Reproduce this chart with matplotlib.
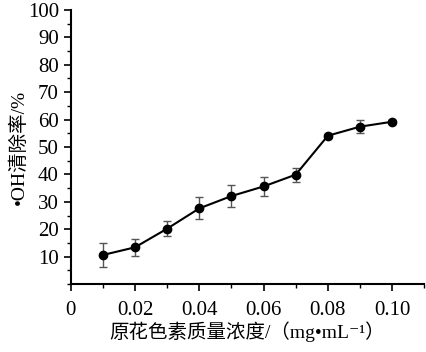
import matplotlib
matplotlib.use("Agg")
import matplotlib.pyplot as plt
from matplotlib.ticker import MultipleLocator

plt.rcParams['font.family'] = ['Liberation Serif', 'Noto Sans CJK SC', 'DejaVu Sans']

conc = [0.01, 0.02, 0.03, 0.04, 0.05, 0.06, 0.07, 0.08, 0.09, 0.10]
rate = [10.6, 13.4, 20.2, 27.6, 32.1, 35.6, 39.9, 54.1, 57.4, 59.2]
err = [4.3, 3.2, 2.8, 4.0, 3.9, 3.6, 2.5, 0.8, 2.3, 0.5]

xticks = [0, 0.02, 0.04, 0.06, 0.08, 0.10]
xtick_labels = ['0', '0.02', '0.04', '0.06', '0.08', '0.10']
yticks = [10, 20, 30, 40, 50, 60, 70, 80, 90, 100]

fig = plt.figure(figsize=(4.26, 3.52), dpi=100)
ax = fig.add_axes([0.166, 0.193, 0.83, 0.779])

ax.errorbar(conc, rate, yerr=err, color='black', lw=1.5, marker='o', ms=6,
            ecolor='#555555', elinewidth=1, capsize=3, capthick=1)

ax.set_xlim(0, 0.11)
ax.set_ylim(0, 100)
ax.set_xticks(xticks)
ax.set_xticklabels(xtick_labels)
ax.set_yticks(yticks)
ax.xaxis.set_minor_locator(MultipleLocator(0.01))
ax.yaxis.set_minor_locator(MultipleLocator(5))

for s in ['top', 'right']:
    ax.spines[s].set_visible(False)
for s in ['left', 'bottom']:
    ax.spines[s].set_linewidth(1.5)

ax.tick_params(which='major', direction='out', length=5, width=1.2, labelsize=15)
ax.tick_params(which='minor', direction='out', length=3, width=1)
ax.tick_params(axis='x', which='major', pad=7)

ax.set_xlabel('原花色素质量浓度/（mg•mL⁻¹）', fontsize=14, labelpad=1)
ax.set_ylabel('•OH清除率/%', fontsize=14, labelpad=0)

fig.savefig('out.png', dpi=100)
